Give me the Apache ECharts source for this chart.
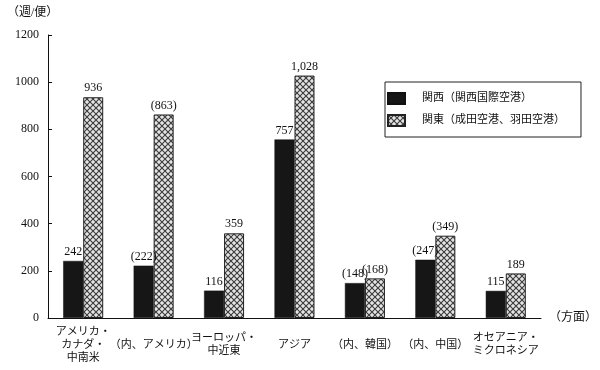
<!DOCTYPE html>
<html>
<head>
<meta charset="utf-8">
<script src="https://cdn.jsdelivr.net/npm/echarts@6/dist/echarts.min.js"></script>
<style>html,body{margin:0;padding:0;background:#fff}#c{width:600px;height:370px}</style>
</head>
<body>
<div id="c"></div>
<script>
const categories = ['アメリカ・\nカナダ・\n中南米', '（内、アメリカ）', 'ヨーロッパ・\n中近東', 'アジア', '（内、韓国）', '（内、中国）', 'オセアニア・\nミクロネシア'];
const kansai = [242, 222, 116, 757, 148, 247, 115];
const kanto = [936, 863, 359, 1028, 168, 349, 189];
const kansaiLabels = ['242', '(222)', '116', '757', '(148)', '(247)', '115'];
const kantoLabels = ['936', '(863)', '359', '1,028', '(168)', '(349)', '189'];
const seriesNames = ['関西（関西国際空港）', '関東（成田空港、羽田空港）'];

const FONT = "'Liberation Serif', 'Noto Sans CJK JP', serif";

function hatch() {
  const c = document.createElement('canvas');
  c.width = 6; c.height = 6;
  const g = c.getContext('2d');
  g.fillStyle = '#e4e4e4';
  g.fillRect(0, 0, 6, 6);
  g.strokeStyle = '#3a3a3a';
  g.lineWidth = 1.1;
  g.beginPath();
  g.moveTo(-1, -1); g.lineTo(7, 7);
  g.moveTo(-1, 7); g.lineTo(7, -1);
  g.stroke();
  return c;
}

const chart = echarts.init(document.getElementById('c'), null, { renderer: 'canvas' });
chart.setOption({
  animation: false,
  textStyle: { fontFamily: FONT, color: '#111' },
  grid: { left: 48, right: 53, top: 35, bottom: 52 },
  graphic: [
    { type: 'text', left: 7, top: 7, style: { text: '（週/便）', font: "12px " + FONT, fill: '#111' } }
  ],
  legend: {
    orient: 'vertical',
    left: 385, top: 82,
    padding: [10, 16, 10, 2],
    itemGap: 9,
    itemWidth: 17, itemHeight: 11,
    icon: 'rect',
    borderColor: '#222', borderWidth: 1,
    textStyle: { fontSize: 11, fontFamily: FONT, color: '#111', padding: [0, 0, 0, 12] },
    data: seriesNames
  },
  xAxis: {
    type: 'category',
    data: categories,
    name: '（方面）',
    nameGap: 8,
    nameTextStyle: { fontSize: 12, fontFamily: FONT, color: '#111' },
    axisLine: { lineStyle: { color: '#111', width: 1 } },
    axisTick: { inside: true, length: 4, lineStyle: { color: '#111' } },
    axisLabel: { interval: 0, fontSize: 11, lineHeight: 13, color: '#111', fontFamily: FONT, margin: 27, verticalAlign: 'middle' }
  },
  yAxis: {
    type: 'value',
    min: 0, max: 1200, interval: 200,
    axisLine: { show: true, lineStyle: { color: '#111', width: 1 } },
    axisTick: { show: true, inside: true, length: 4, lineStyle: { color: '#111' } },
    splitLine: { show: false },
    axisLabel: { fontSize: 12, color: '#111', fontFamily: FONT, margin: 9, formatter: v => String(v) }
  },
  series: [
    {
      name: seriesNames[0], type: 'bar', data: kansai,
      barWidth: 20, barGap: '0%',
      itemStyle: { color: '#161616', borderColor: '#111', borderWidth: 0.5 },
      label: { show: true, position: 'top', distance: 3, fontSize: 12, fontFamily: FONT, color: '#111',
        formatter: p => kansaiLabels[p.dataIndex] }
    },
    {
      name: seriesNames[1], type: 'bar', data: kanto,
      barWidth: 20,
      itemStyle: { color: { image: hatch(), repeat: 'repeat' }, borderColor: '#222', borderWidth: 1 },
      label: { show: true, position: 'top', distance: 3, fontSize: 12, fontFamily: FONT, color: '#111',
        formatter: p => kantoLabels[p.dataIndex] }
    }
  ]
});
</script>
</body>
</html>
